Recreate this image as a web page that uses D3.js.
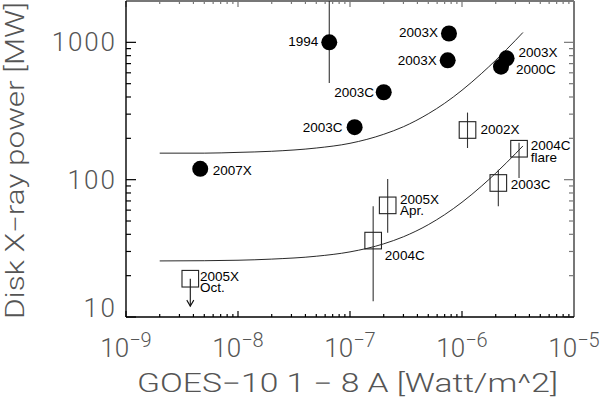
<!DOCTYPE html>
<html>
<head>
<meta charset="utf-8">
<script src="https://cdn.jsdelivr.net/npm/d3@7"></script>
<style>
  body { margin: 0; background: #fff; }
  svg { display: block; }
</style>
</head>
<body>
<svg width="603" height="399"></svg>
<script>
// flare events, filled circles
const circleNames = ["1994", "2003X", "2003X", "2003C", "2003C", "2003X", "2000C", "2007X"];
const circleGoes = [6.53e-8, 7.65e-7, 7.45e-7, 2.0e-7, 1.1e-7, 2.5e-6, 2.23e-6, 4.6e-9];
const circlePower = [1000, 1160, 740, 433, 241, 765, 665, 120];
const circleErrLow = [506, null, null, null, null, null, null, null];
const circleErrHigh = [2000, null, null, null, null, null, null, null];

// flare events, open squares
const squareNames = [["2002X"], ["2004C", "flare"], ["2003C"], ["2005X", "Apr."], ["2004C"], ["2005X", "Oct."]];
const squareGoes = [1.12e-6, 3.23e-6, 2.11e-6, 2.17e-7, 1.61e-7, 3.75e-9];
const squarePower = [230, 168, 94.6, 65, 36, 19];
const squareErrLow = [170, 103, 64, 41, 13, null];
const squareErrHigh = [308, 186, 118, 101, 64, null];
const upperLimit = [null, null, null, null, null, 12];

// the two fitted curves
const curveGoes = [2e-9, 5e-9, 1e-8, 2e-8, 5e-8, 1e-7, 2e-7, 3e-7, 5e-7, 7e-7, 1e-6, 1.5e-6, 2e-6, 2.5e-6, 3e-6, 3.5e-6];
const upperCurve = [156, 156, 158, 161, 170, 184, 214, 243, 302, 360, 448, 595, 741, 888, 1034, 1180];
const lowerCurve = [25.6, 25.7, 25.9, 26.4, 27.7, 29.8, 34.1, 38.4, 47, 55.6, 68.5, 90, 111.5, 133, 154.5, 176];

const xTicks = [1e-9, 1e-8, 1e-7, 1e-6, 1e-5];
const xTickExp = ["\u22129", "\u22128", "\u22127", "\u22126", "\u22125"];
const yTicks = [10, 100, 1000];

let svg = d3.select("svg");
let mLeft = 126, mRight = 574, mTop = 1, mBottom = 317;

let x = d3.scaleLog().domain([1e-9, 1e-5]).range([mLeft, mRight]);
let y = d3.scaleLog().domain([10, 2000]).range([mBottom, mTop]);

let tickFont = "Roboto, 'DejaVu Sans', sans-serif";
let labelFont = "'Liberation Sans', Arial, sans-serif";

// minor ticks
let xMinor = [];
for (let e = -9; e < -5; e++) for (let m = 2; m <= 9; m++) xMinor.push(m * Math.pow(10, e));
let yMinor = [];
for (let e = 1; e < 4; e++) for (let m = 2; m <= 9; m++) {
  let v = m * Math.pow(10, e);
  if (v <= 2000) yMinor.push(v);
}

let axes = svg.append("g");

// bottom & top ticks
[[mBottom, -1, "#000"], [mTop, 1, "#777"]].forEach(([yy, dir, col]) => {
  axes.selectAll(null).data(xMinor).enter().append("line")
    .attr("x1", (d) => x(d)).attr("x2", (d) => x(d))
    .attr("y1", yy).attr("y2", yy + dir * 3)
    .attr("stroke", col).attr("stroke-width", 1.2);
  axes.selectAll(null).data(xTicks).enter().append("line")
    .attr("x1", (d) => x(d)).attr("x2", (d) => x(d))
    .attr("y1", yy).attr("y2", yy + dir * 6)
    .attr("stroke", col).attr("stroke-width", 1.2);
});

// left & right ticks
[[mLeft, 1, "#000"], [mRight, -1, "#777"]].forEach(([xx, dir, col]) => {
  axes.selectAll(null).data(yMinor).enter().append("line")
    .attr("x1", xx).attr("x2", xx + dir * 5)
    .attr("y1", (d) => y(d)).attr("y2", (d) => y(d))
    .attr("stroke", col).attr("stroke-width", 1.2);
  axes.selectAll(null).data(yTicks).enter().append("line")
    .attr("x1", xx).attr("x2", xx + dir * 10)
    .attr("y1", (d) => y(d)).attr("y2", (d) => y(d))
    .attr("stroke", col).attr("stroke-width", 1.2);
});

// frame
axes.append("line").attr("x1", mLeft).attr("x2", mRight).attr("y1", mTop).attr("y2", mTop)
  .attr("stroke", "#777").attr("stroke-width", 2);
axes.append("line").attr("x1", mRight).attr("x2", mRight).attr("y1", mTop).attr("y2", mBottom)
  .attr("stroke", "#777").attr("stroke-width", 2);
axes.append("line").attr("x1", mLeft).attr("x2", mRight).attr("y1", mBottom).attr("y2", mBottom)
  .attr("stroke", "#000").attr("stroke-width", 1.6);
axes.append("line").attr("x1", mLeft).attr("x2", mLeft).attr("y1", mTop).attr("y2", mBottom)
  .attr("stroke", "#000").attr("stroke-width", 1.4);

// y tick labels
axes.selectAll(null).data(yTicks).enter().append("text")
  .attr("x", 115)
  .attr("y", (d, i) => y(d) + (i == 0 ? 0 : 9))
  .attr("text-anchor", "end")
  .attr("font-family", tickFont).attr("font-weight", 300)
  .attr("font-size", 26).attr("fill", "#555")
  .attr("textLength", (d) => String(d).length * 15.8)
  .text((d) => d);

// x tick labels: 10 with superscript exponent
let xl = axes.selectAll(null).data(xTicks).enter().append("text")
  .attr("x", (d) => x(d))
  .attr("y", 357)
  .attr("text-anchor", "middle")
  .attr("font-family", tickFont).attr("font-weight", 300)
  .attr("fill", "#555");
xl.append("tspan").attr("font-size", 26).text("10");
xl.append("tspan").attr("font-size", 20).attr("dy", -10).text((d, i) => xTickExp[i]);

// axis titles
svg.append("text")
  .attr("x", 347.5).attr("y", 392)
  .attr("text-anchor", "middle")
  .attr("font-family", tickFont).attr("font-weight", 300)
  .attr("font-size", 25).attr("fill", "#555")
  .attr("textLength", 421).attr("lengthAdjust", "spacingAndGlyphs")
  .text("GOES\u221210  1  \u2212  8  A  [Watt/m^2]");

svg.append("text")
  .attr("transform", "translate(24,160.5) rotate(-90)")
  .attr("text-anchor", "middle")
  .attr("font-family", tickFont).attr("font-weight", 300)
  .attr("font-size", 25).attr("fill", "#555")
  .attr("textLength", 317).attr("lengthAdjust", "spacingAndGlyphs")
  .text("Disk  X\u2212ray  power  [MW]");

// plot contents
svg.append("clipPath").attr("id", "clip").append("rect")
  .attr("x", mLeft).attr("y", mTop).attr("width", mRight - mLeft).attr("height", mBottom - mTop);
let plot = svg.append("g").attr("clip-path", "url(#clip)");

let line = d3.line().x((d) => x(d[0])).y((d) => y(d[1])).curve(d3.curveMonotoneX);
[upperCurve, lowerCurve].forEach((c) => {
  plot.append("path")
    .attr("d", line(curveGoes.map((g, i) => [g, c[i]])))
    .attr("fill", "none").attr("stroke", "#111").attr("stroke-width", 0.9);
});

// error bars
function errBars(goes, lo, hi) {
  plot.selectAll(null).data(goes.map((g, i) => [g, lo[i], hi[i]]).filter((d) => d[1] != null))
    .enter().append("line")
    .attr("x1", (d) => x(d[0])).attr("x2", (d) => x(d[0]))
    .attr("y1", (d) => y(d[2])).attr("y2", (d) => y(d[1]))
    .attr("stroke", "#333").attr("stroke-width", 1.1);
}
errBars(circleGoes, circleErrLow, circleErrHigh);
errBars(squareGoes, squareErrLow, squareErrHigh);

// upper limit arrow
upperLimit.forEach((u, i) => {
  if (u == null) return;
  let cx = x(squareGoes[i]), cy = y(squarePower[i]), ey = y(u);
  plot.append("line").attr("x1", cx).attr("x2", cx).attr("y1", cy).attr("y2", ey)
    .attr("stroke", "#111").attr("stroke-width", 1.1);
  plot.append("path")
    .attr("d", `M${cx - 3.5},${ey - 6}L${cx},${ey}L${cx + 3.5},${ey - 6}`)
    .attr("fill", "none").attr("stroke", "#111").attr("stroke-width", 1.1);
});

plot.selectAll(null).data(circleGoes).enter().append("circle")
  .attr("cx", (d) => x(d))
  .attr("cy", (d, i) => y(circlePower[i]))
  .attr("r", 8)
  .attr("fill", "#000");

plot.selectAll(null).data(squareGoes).enter().append("rect")
  .attr("x", (d) => x(d) - 8.3)
  .attr("y", (d, i) => y(squarePower[i]) - 8.3)
  .attr("width", 16.6).attr("height", 16.6)
  .attr("fill", "none").attr("stroke", "#222").attr("stroke-width", 1.1);

// label offsets from the marker centre: [dx, dy of first line, anchor]
let circleLabelPos = [[-11, 4, "end"], [-11, 4, "end"], [-11, 4.5, "end"], [-9.7, 5, "end"],
  [-12, 5, "end"], [12, -1.5, "start"], [15, 7.5, "start"], [12.4, 6.5, "start"]];
let squareLabelPos = [[13, 4, "start"], [11.7, 1.5, "start"], [12.4, 6.5, "start"],
  [12.3, -1.7, "start"], [11.7, 19, "start"], [9.7, 1.8, "start"]];

svg.selectAll(null).data(circleNames).enter().append("text")
  .attr("x", (d, i) => x(circleGoes[i]) + circleLabelPos[i][0])
  .attr("y", (d, i) => y(circlePower[i]) + circleLabelPos[i][1])
  .attr("text-anchor", (d, i) => circleLabelPos[i][2])
  .attr("font-family", labelFont).attr("font-size", 13.5).attr("fill", "#000")
  .text((d) => d);

let sq = svg.selectAll(null).data(squareNames).enter().append("text")
  .attr("x", (d, i) => x(squareGoes[i]) + squareLabelPos[i][0])
  .attr("y", (d, i) => y(squarePower[i]) + squareLabelPos[i][1])
  .attr("font-family", labelFont).attr("font-size", 13.5).attr("fill", "#000");
sq.selectAll("tspan").data((d) => d).enter().append("tspan")
  .attr("x", function () { return d3.select(this.parentNode).attr("x"); })
  .attr("dy", (d, j) => (j == 0 ? 0 : 11.5))
  .text((d) => d);
</script>
</body>
</html>
